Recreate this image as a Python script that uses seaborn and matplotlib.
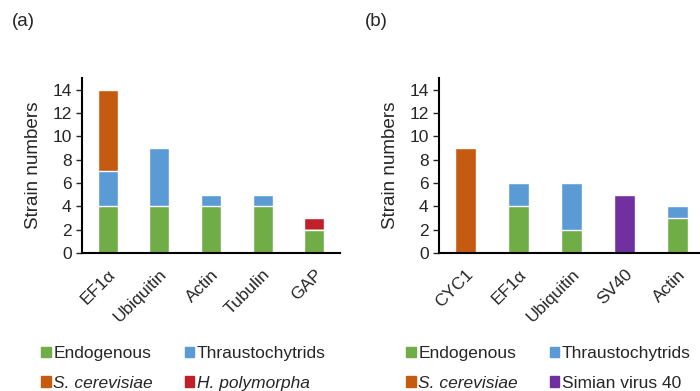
import numpy as np
import pandas as pd
import matplotlib
matplotlib.use("Agg")
import matplotlib.pyplot as plt
import seaborn as sns
from matplotlib.patches import Patch

sns.set_style("white")
plt.rcParams['font.family'] = ['Liberation Sans', 'DejaVu Sans']

# panel (a)
genes_a = ['EF1α', 'Ubiquitin', 'Actin', 'Tubulin', 'GAP']
endo_a = [4, 4, 4, 4, 2]
thrau_a = [3, 5, 1, 1, 0]
scer_a = [7, 0, 0, 0, 0]
hpol_a = [0, 0, 0, 0, 1]

# panel (b)
genes_b = ['CYC1', 'EF1α', 'Ubiquitin', 'SV40', 'Actin']
endo_b = [0, 4, 2, 0, 3]
thrau_b = [0, 2, 4, 0, 1]
scer_b = [9, 0, 0, 0, 0]
sv40_b = [0, 0, 0, 5, 0]

green = '#70AD47'
blue = '#5B9BD5'
orange = '#C55A11'
red = '#C0202A'
purple = '#7030A0'


def stacked(ax, genes, layers, colors):
    # draw cumulative totals from the top down so lower segments sit on top
    cum = np.cumsum(np.array(layers), axis=0)
    for vals, c in reversed(list(zip(cum, colors))):
        df = pd.DataFrame({'gene': genes, 'n': vals})
        sns.barplot(data=df, x='gene', y='n', color=c, width=0.39,
                    saturation=1, ax=ax)
    ax.set_ylim(0, 15)
    ax.set_xlim(-0.5, 4.5)
    ax.set_yticks(range(0, 15, 2))
    ax.set_xlabel('')
    ax.set_ylabel('Strain numbers', fontsize=13.6, labelpad=7)
    ax.tick_params(axis='y', labelsize=12.5, length=4, width=1, direction='out', left=True)
    ax.tick_params(axis='x', labelsize=12.5, length=0, pad=10)
    plt.setp(ax.get_xticklabels(), rotation=45, ha='right', rotation_mode='anchor')
    sns.despine(ax=ax)
    for s in ['left', 'bottom']:
        ax.spines[s].set_color('black')
        ax.spines[s].set_linewidth(1.5)


fig = plt.figure(figsize=(7, 3.91), dpi=100)
ax1 = fig.add_axes([82 / 700, 138 / 391, 258 / 700, 175 / 391])
ax2 = fig.add_axes([439 / 700, 138 / 391, 265 / 700, 175 / 391])

stacked(ax1, genes_a, [endo_a, thrau_a, scer_a, hpol_a], [green, blue, orange, red])
stacked(ax2, genes_b, [endo_b, thrau_b, scer_b, sv40_b], [green, blue, orange, purple])

fig.text(12 / 700, 1 - 22 / 391, '(a)', fontsize=13.5, va='center')
fig.text(365 / 700, 1 - 22 / 391, '(b)', fontsize=13.5, va='center')

labels_a = ['Endogenous', 'S. cerevisiae', 'Thraustochytrids', 'H. polymorpha']
colors_a = [green, orange, blue, red]
labels_b = ['Endogenous', 'S. cerevisiae', 'Thraustochytrids', 'Simian virus 40']
colors_b = [green, orange, blue, purple]

for labels, colors, x0, italic in [(labels_a, colors_a, 41, [1, 3]),
                                   (labels_b, colors_b, 406, [1])]:
    handles = [Patch(color=c) for c in colors]
    leg = fig.legend(handles, labels, ncol=2, loc='upper left',
                     bbox_to_anchor=(x0 / 700, 1 - 346 / 391), frameon=False,
                     fontsize=12.5, handlelength=0.55, handleheight=0.55,
                     handletextpad=0.15, columnspacing=1.85, labelspacing=0.85,
                     borderaxespad=0, borderpad=0)
    for i in italic:
        leg.get_texts()[i].set_style('italic')

fig.savefig('out.png', dpi=100)
